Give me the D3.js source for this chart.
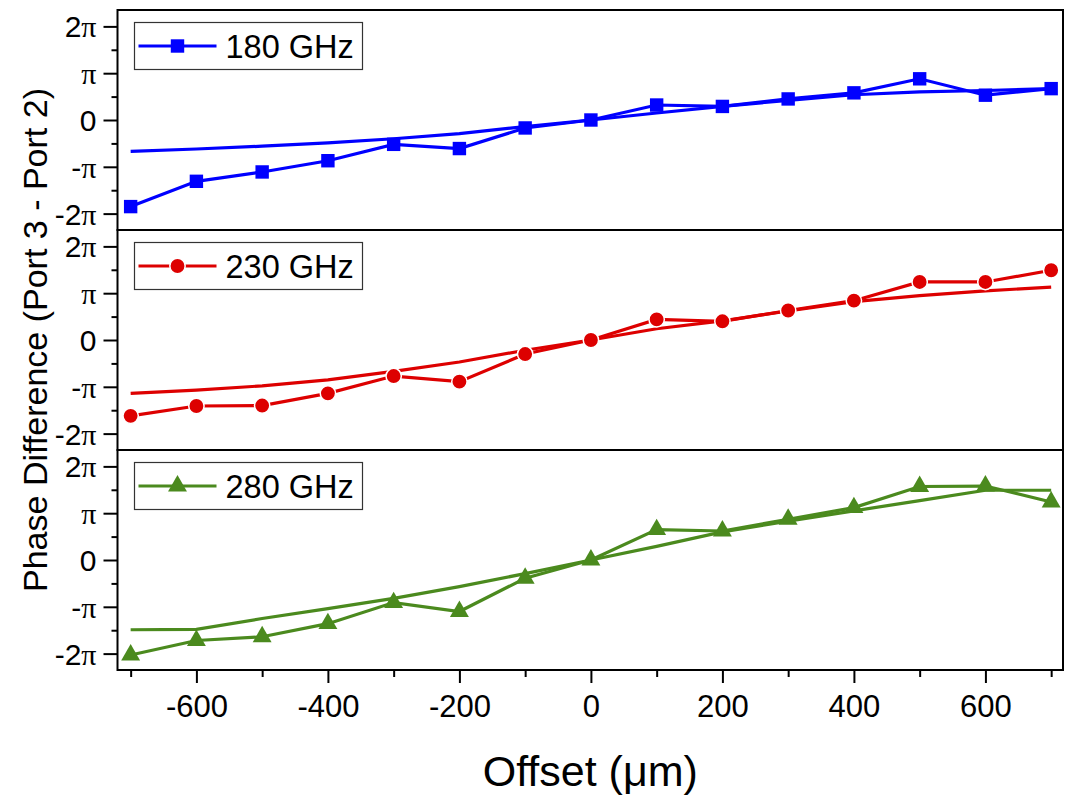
<!DOCTYPE html>
<html>
<head>
<meta charset="utf-8">
<script src="https://cdn.jsdelivr.net/npm/d3@7"></script>
<style type="text/css">
body { margin: 0; background: #fff; }
svg { display: block; font-family: "Liberation Sans", Arial, sans-serif; }
.frame { fill: none; stroke: #000; stroke-width: 2; }
.tick line { stroke: #000; stroke-width: 2; }
.legendBox { fill: #fff; stroke: #333; stroke-width: 1.2; }
</style>
</head>
<body>
<div id="chart"></div>
<script>

// offsets in um, phase values in units of pi
var offsets = [-700, -600, -500, -400, -300, -200, -100, 0, 100, 200, 300, 400, 500, 600, 700];

var meas180 = [-1.85, -1.31, -1.11, -0.87, -0.52, -0.61, -0.17, 0, 0.32, 0.29, 0.45, 0.58, 0.88, 0.53, 0.67];
var fit180  = [-0.67, -0.62, -0.56, -0.49, -0.40, -0.29, -0.14, 0, 0.15, 0.29, 0.42, 0.54, 0.60, 0.63, 0.67];

var meas230 = [-1.62, -1.41, -1.40, -1.14, -0.77, -0.89, -0.30, 0, 0.44, 0.40, 0.63, 0.84, 1.24, 1.24, 1.49];
var fit230  = [-1.14, -1.07, -0.98, -0.85, -0.67, -0.47, -0.22, 0, 0.24, 0.41, 0.62, 0.82, 0.95, 1.05, 1.13];

var meas280 = [-2.03, -1.72, -1.64, -1.36, -0.91, -1.10, -0.39, 0, 0.65, 0.62, 0.87, 1.12, 1.57, 1.58, 1.24];
var fit280  = [-1.49, -1.48, -1.25, -1.04, -0.82, -0.57, -0.29, 0, 0.29, 0.60, 0.83, 1.05, 1.27, 1.49, 1.49];

var seriesNames = ["180 GHz", "230 GHz", "280 GHz"];
var yTicks = [-2, -1, 0, 1, 2];
var yTickLabels = ["-2\u03C0", "-\u03C0", "0", "\u03C0", "2\u03C0"];
var yMinor = [-1.5, -0.5, 0.5, 1.5];
var xTicks = [-600, -400, -200, 0, 200, 400, 600];
var xMinor = [-700, -500, -300, -100, 100, 300, 500, 700];

var panels = [
	{ name: seriesNames[0], meas: meas180, fit: fit180, color: "#0000ff", symbol: d3.symbolSquare,   size: 180 },
	{ name: seriesNames[1], meas: meas230, fit: fit230, color: "#dd0000", symbol: d3.symbolCircle,   size: 185 },
	{ name: seriesNames[2], meas: meas280, fit: fit280, color: "#4b8a1e", symbol: d3.symbolTriangle, size: 155 }
];

var W = 1072, H = 796;
var plotL = 117.5, plotR = 1063, plotT = 10, plotB = 670;
var panelH = (plotB - plotT) / panels.length;

var svg = d3.select("#chart").append("svg")
	.attr("width", W).attr("height", H);

var x = d3.scaleLinear().domain([-720, 718]).range([plotL, plotR]);

panels.forEach(function(p, i) {
	var y0 = plotT + i * panelH;
	var y = d3.scaleLinear().domain([-2.35, 2.35]).range([y0 + panelH, y0]);
	var g = svg.append("g");

	// y axis: major ticks with pi labels, minor ticks
	var ax = g.append("g").attr("transform", "translate(" + plotL + ",0)")
		.call(d3.axisLeft(y).tickValues(yTicks).tickSize(14).tickFormat(""));
	ax.select(".domain").remove();
	ax.selectAll(".tick").each(function(d, k) {
		var t = d3.select(this).append("text")
			.attr("x", -21).attr("dy", "0.35em")
			.attr("text-anchor", "end")
			.attr("fill", "#000")
			.style("font-size", "30px");
		var lab = yTickLabels[k];
		var pre = lab.replace("\u03C0", "");
		if (pre.length) t.append("tspan").text(pre);
		if (lab.indexOf("\u03C0") >= 0)
			t.append("tspan").style("font-family", "'Liberation Serif', serif").text("\u03C0");
	});
	var axm = g.append("g").attr("transform", "translate(" + plotL + ",0)")
		.call(d3.axisLeft(y).tickValues(yMinor).tickSize(6).tickFormat(""));
	axm.select(".domain").remove();

	var line = d3.line()
		.x(function(d, k) { return x(offsets[k]); })
		.y(function(d) { return y(d); });

	// fit line, measured line, markers
	g.append("path").datum(p.fit)
		.attr("d", line).attr("fill", "none")
		.attr("stroke", p.color).attr("stroke-width", 3.2);
	g.append("path").datum(p.meas)
		.attr("d", line).attr("fill", "none")
		.attr("stroke", p.color).attr("stroke-width", 3.2);
	g.selectAll("path.mk").data(p.meas).enter().append("path")
		.attr("class", "mk")
		.attr("transform", function(d, k) { return "translate(" + x(offsets[k]) + "," + y(d) + ")"; })
		.attr("d", d3.symbol().type(p.symbol).size(p.size))
		.attr("fill", p.color)
		.attr("stroke", i == 1 ? "#fff" : "none")
		.attr("stroke-width", 1.5);

	g.append("rect").attr("class", "frame")
		.attr("x", plotL).attr("y", y0)
		.attr("width", plotR - plotL).attr("height", panelH);

	// legend
	var lx = plotL + 17, ly = y0 + 12.5;
	var lg = g.append("g");
	lg.append("rect").attr("class", "legendBox")
		.attr("x", lx).attr("y", ly).attr("width", 228).attr("height", 47);
	lg.append("line")
		.attr("x1", lx + 4).attr("x2", lx + 82)
		.attr("y1", ly + 23.5).attr("y2", ly + 23.5)
		.attr("stroke", p.color).attr("stroke-width", 3);
	lg.append("path")
		.attr("transform", "translate(" + (lx + 43) + "," + (ly + 23.5) + ")")
		.attr("d", d3.symbol().type(p.symbol).size(p.size))
		.attr("fill", p.color)
		.attr("stroke", i == 1 ? "#fff" : "none")
		.attr("stroke-width", 1.5);
	lg.append("text")
		.attr("x", lx + 91).attr("y", ly + 35)
		.attr("fill", "#000")
		.style("font-size", "32.5px")
		.text(p.name);

	// x axis only under the last panel
	if (i == panels.length - 1) {
		var xa = g.append("g").attr("transform", "translate(0," + plotB + ")")
			.call(d3.axisBottom(x).tickValues(xTicks).tickSize(13).tickPadding(12));
		xa.select(".domain").remove();
		xa.selectAll(".tick text").attr("fill", "#000").style("font-size", "31px")
			.text(function(d) { return d < 0 ? "-" + Math.abs(d) : d; });
		var xm = g.append("g").attr("transform", "translate(0," + plotB + ")")
			.call(d3.axisBottom(x).tickValues(xMinor).tickSize(7).tickFormat(""));
		xm.select(".domain").remove();
	}
});

svg.append("text")
	.attr("x", (plotL + plotR) / 2).attr("y", 786)
	.attr("text-anchor", "middle")
	.style("font-size", "43px")
	.text("Offset (\u03BCm)");

svg.append("text")
	.attr("transform", "translate(47," + ((plotT + plotB) / 2) + ") rotate(-90)")
	.attr("text-anchor", "middle")
	.style("font-size", "34px")
	.text("Phase Difference (Port 3 - Port 2)");

</script>
</body>
</html>
